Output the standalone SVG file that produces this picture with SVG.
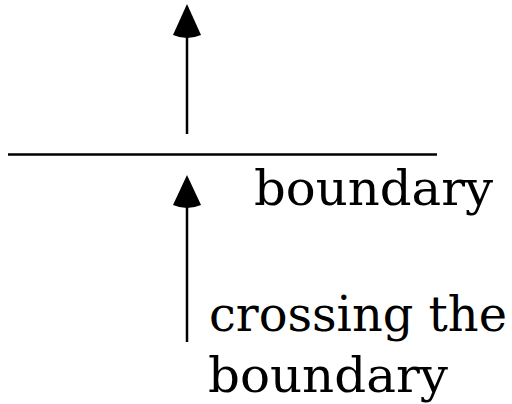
<svg xmlns="http://www.w3.org/2000/svg" width="512" height="404" viewBox="0 0 512 404">
<style>
.ln{stroke:#000;stroke-width:2.5;fill:none}
.hd{fill:#000;stroke:none}
.t{font-family:"DejaVu Serif","Liberation Serif",serif;font-size:48px;fill:#000}
</style>
<rect width="512" height="404" fill="#fff"/>
<g id="connectors">
<line class="ln" x1="187" y1="36" x2="187" y2="134"/>
<path class="hd" d="M187,4 L173,35 Q187,41 201,35 Z"/>
<line class="ln" x1="187" y1="206" x2="187" y2="342"/>
<path class="hd" d="M187,175 L173,205 Q187,211 201,205 Z"/>
</g>
<g id="boundary-line">
<line x1="8" y1="154.5" x2="437" y2="154.5" stroke="#000" stroke-width="2.5"/>
</g>
<g id="label-boundary">
<text class="t" x="254" y="205" textLength="239" lengthAdjust="spacingAndGlyphs">boundary</text>
</g>
<g id="label-crossing">
<text class="t" x="209" y="331" textLength="298" lengthAdjust="spacingAndGlyphs">crossing the</text>
<text class="t" x="208" y="392" textLength="240" lengthAdjust="spacingAndGlyphs">boundary</text>
</g>
</svg>
